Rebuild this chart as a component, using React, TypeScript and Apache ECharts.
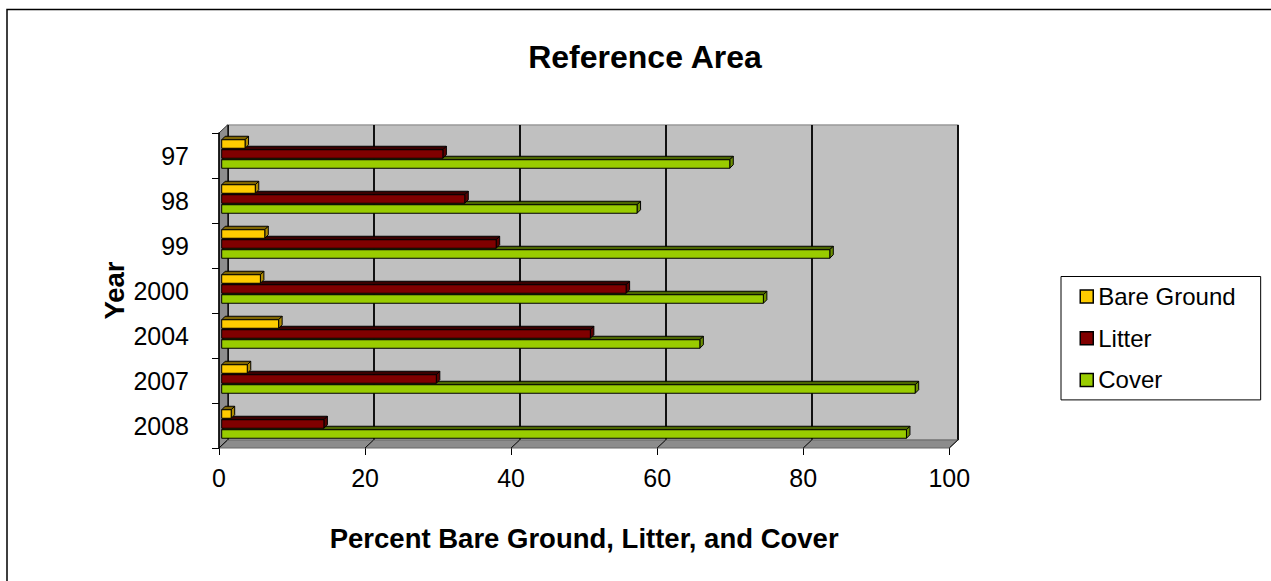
import React, { useEffect, useRef } from "react";
import * as echarts from "echarts";

// Survey years (category axis, top to bottom)
const years = ["97", "98", "99", "2000", "2004", "2007", "2008"];

// Percent values per year
const bareGround = [3.2, 4.6, 5.9, 5.3, 7.8, 3.5, 1.3];
const litter = [30.3, 33.3, 37.6, 55.4, 50.5, 29.4, 14.0];
const cover = [69.6, 56.9, 83.3, 74.2, 65.5, 95.0, 93.8];

const seriesNames = ["Bare Ground", "Litter", "Cover"];

// Value axis range
const X_MIN = 0;
const X_MAX = 100;
const X_STEP = 20;

const FONT = "'Liberation Sans', Arial, Helvetica, sans-serif";

// 3D box layout: front plane, back wall shifted up/right by the depth
const FRONT = { left: 219, top: 133, width: 730.3, height: 315 };
const DX = 8.5;
const DY = 8;
const BAR_GRID = { left: 221.7, top: 131.5, width: 730, height: 315 };
const BAR_H = 8.5;
const BAR_DEPTH = 3.5;

type Look = { front: string; top: string; side: string; offset: number };
const looks: Look[] = [
  { front: "#FFCC00", top: "#7F6500", side: "#B08C00", offset: -10 },
  { front: "#800000", top: "#3A0000", side: "#5A0000", offset: 0 },
  { front: "#99CC00", top: "#4C6600", side: "#6C9000", offset: 10 },
];

function barRenderer(look: Look) {
  return (_params: any, api: any) => {
    const v = api.value(0);
    const c = api.value(1);
    const p0 = api.coord([X_MIN, c]);
    const p1 = api.coord([v, c]);
    const x0 = p0[0];
    const x1 = p1[0];
    const yc = p0[1] + look.offset;
    const y0 = yc - BAR_H / 2;
    const y1 = yc + BAR_H / 2;
    const d = BAR_DEPTH;
    const edge = { stroke: "#000", lineWidth: 1 };
    return {
      type: "group",
      children: [
        {
          type: "polygon",
          shape: { points: [[x0, y0], [x1, y0], [x1 + d, y0 - d], [x0 + d, y0 - d]] },
          style: { fill: look.top, ...edge },
        },
        {
          type: "polygon",
          shape: { points: [[x1, y0], [x1 + d, y0 - d], [x1 + d, y1 - d], [x1, y1]] },
          style: { fill: look.side, ...edge },
        },
        {
          type: "rect",
          shape: { x: x0, y: y0, width: x1 - x0, height: y1 - y0 },
          style: { fill: look.front, ...edge },
        },
      ],
    };
  };
}

function buildOption() {
  const fBottom = FRONT.top + FRONT.height;
  const fRight = FRONT.left + FRONT.width;
  const ticks: number[] = [];
  for (let t = X_MIN; t <= X_MAX; t += X_STEP) ticks.push(t);

  const floorTicks = ticks.map((t) => {
    const xf = FRONT.left + ((t - X_MIN) / (X_MAX - X_MIN)) * FRONT.width;
    return {
      type: "line",
      z: 1,
      shape: { x1: xf, y1: fBottom, x2: xf + DX, y2: fBottom - DY },
      style: { stroke: "#000", lineWidth: 1 },
    };
  });

  const values = [bareGround, litter, cover];

  return {
    animation: false,
    title: {
      text: "Reference Area",
      left: 640,
      top: 36,
      textAlign: "center",
      textStyle: { fontFamily: FONT, fontSize: 32, fontWeight: "bold", color: "#000" },
    },
    legend: {
      orient: "vertical",
      left: 1061,
      top: 276.5,
      padding: [8, 25, 8, 18.5],
      itemGap: 17.7,
      itemWidth: 13,
      itemHeight: 13,
      icon: "rect",
      borderColor: "#000",
      borderWidth: 1,
      data: seriesNames,
      itemStyle: { borderColor: "#000", borderWidth: 1.5 },
      textStyle: { fontFamily: FONT, fontSize: 24, lineHeight: 24, color: "#000" },
    },
    grid: [
      // back wall
      {
        left: FRONT.left + DX,
        top: FRONT.top - DY,
        width: FRONT.width,
        height: FRONT.height,
        show: true,
        backgroundColor: "#C0C0C0",
        borderColor: "#999",
        borderWidth: 1.5,
      },
      // front plane (axes, ticks, labels)
      { left: FRONT.left, top: FRONT.top, width: FRONT.width, height: FRONT.height },
      // plane the bars sit in
      { ...BAR_GRID },
    ],
    xAxis: [
      {
        gridIndex: 0,
        type: "value",
        min: X_MIN,
        max: X_MAX,
        interval: X_STEP,
        axisLine: { show: false },
        axisTick: { show: false },
        axisLabel: { show: false },
        splitLine: { show: true, lineStyle: { color: "#111", width: 2 } },
      },
      {
        gridIndex: 1,
        type: "value",
        min: X_MIN,
        max: X_MAX,
        interval: X_STEP,
        name: "Percent Bare Ground, Litter, and Cover",
        nameLocation: "middle",
        nameGap: 76,
        nameMoveOverlap: false,
        nameTextStyle: { fontFamily: FONT, fontSize: 27.5, fontWeight: "bold", color: "#000" },
        axisLine: { show: false },
        axisTick: { show: true, length: 7, lineStyle: { color: "#000", width: 1 } },
        axisLabel: { fontFamily: FONT, fontSize: 25, color: "#000", margin: 17 },
        splitLine: { show: false },
      },
      {
        gridIndex: 2,
        type: "value",
        min: X_MIN,
        max: X_MAX,
        show: false,
      },
    ],
    yAxis: [
      { gridIndex: 0, type: "category", data: years, inverse: true, show: false },
      {
        gridIndex: 1,
        type: "category",
        data: years,
        inverse: true,
        name: "Year",
        nameLocation: "middle",
        nameGap: 91,
        nameMoveOverlap: false,
        nameRotate: 90,
        nameTextStyle: { fontFamily: FONT, fontSize: 27.5, fontWeight: "bold", color: "#000" },
        axisLine: { show: true, lineStyle: { color: "#000", width: 1.5 } },
        axisTick: { show: true, length: 7, lineStyle: { color: "#000", width: 1 } },
        axisLabel: { fontFamily: FONT, fontSize: 25, color: "#000", margin: 30 },
        splitLine: { show: false },
        z: 3,
      },
      { gridIndex: 2, type: "category", data: years, inverse: true, show: false },
    ],
    graphic: [
      // chart area border
      {
        type: "rect",
        z: 0,
        shape: { x: 7, y: 9.5, width: 1400, height: 800 },
        style: { fill: "none", stroke: "#000", lineWidth: 1.5 },
      },
      // left wall
      {
        type: "polygon",
        z: 1,
        shape: {
          points: [
            [FRONT.left, FRONT.top],
            [FRONT.left + DX, FRONT.top - DY],
            [FRONT.left + DX, fBottom - DY],
            [FRONT.left, fBottom],
          ],
        },
        style: { fill: "#8E8E8E", stroke: "#333", lineWidth: 1 },
      },
      // floor
      {
        type: "polygon",
        z: 1,
        shape: {
          points: [
            [FRONT.left, fBottom],
            [FRONT.left + DX, fBottom - DY],
            [fRight + DX, fBottom - DY],
            [fRight, fBottom],
          ],
        },
        style: { fill: "#8C8C8C", stroke: "#666", lineWidth: 1 },
      },
      ...floorTicks,
    ],
    series: looks.map((look, k) => ({
      type: "custom",
      name: seriesNames[k],
      xAxisIndex: 2,
      yAxisIndex: 2,
      z: 5 - k,
      renderItem: barRenderer(look),
      encode: { x: 0, y: 1 },
      itemStyle: { color: look.front, borderColor: "#000", borderWidth: 1 },
      data: values[k].map((v, i) => [v, i]),
    })),
  };
}

export default function App() {
  const ref = useRef<HTMLDivElement>(null);

  useEffect(() => {
    document.body.style.margin = "0";
    if (!ref.current) return;
    const chart = echarts.init(ref.current, undefined, { renderer: "svg" });
    chart.setOption(buildOption() as any);
    return () => chart.dispose();
  }, []);

  return <div ref={ref} style={{ width: 1271, height: 581, background: "#fff" }} />;
}
